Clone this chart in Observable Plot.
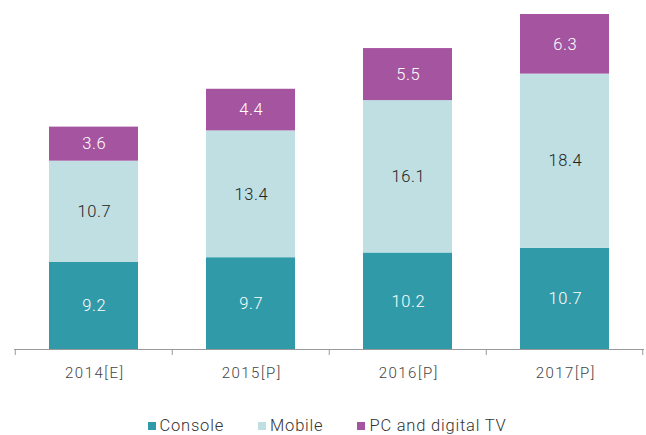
<!DOCTYPE html>
<html>
<head>
<meta charset="utf-8">
<script src="https://cdn.jsdelivr.net/npm/d3@7"></script>
<script src="https://cdn.jsdelivr.net/npm/@observablehq/plot@0.6"></script>
<style>
  body { margin: 0; background: #fff; font-family: Roboto, "Open Sans", sans-serif; }
  #chart svg { display: block; }
  #chart svg g[aria-label="x-axis tick label"] text { letter-spacing: 1.5px; }
  #chart svg g[aria-label="text"] text { letter-spacing: 0.6px; }
  .legend { display: flex; justify-content: center; gap: 34px; margin-top: 26px; margin-left: 8px; font-size: 16.5px; font-weight: 300; color: #333; line-height: 20px; letter-spacing: 0.8px; }
  .legend span.sw { display: inline-block; width: 8px; height: 8px; margin-right: 4px; vertical-align: 1px; }
</style>
</head>
<body>
<div id="chart"></div>
<script>
const years = ["2014[E]", "2015[P]", "2016[P]", "2017[P]"];
const seriesNames = ["Console", "Mobile", "PC and digital TV"];
const consoleValues = [9.2, 9.7, 10.2, 10.7];
const mobileValues = [10.7, 13.4, 16.1, 18.4];
const pcValues = [3.6, 4.4, 5.5, 6.3];
const colors = ["#319aa9", "#bfdfe3", "#a5559f"];
const textColors = ["#ffffff", "#222222", "#ffffff"];

const valuesBySeries = [consoleValues, mobileValues, pcValues];
const data = [];
seriesNames.forEach((s, si) => {
  years.forEach((y, yi) => data.push({year: y, series: s, value: valuesBySeries[si][yi]}));
});
const totals = years.map((y, i) => consoleValues[i] + mobileValues[i] + pcValues[i]);

const W = 646, ML = 14, MR = 2;
const step = (W - ML - MR) / years.length;

const chart = Plot.plot({
  width: W,
  height: 390,
  marginTop: 14,
  marginBottom: 41,
  marginLeft: ML,
  marginRight: MR,
  style: {fontFamily: "Roboto, sans-serif", fontWeight: 300},
  x: {domain: years, paddingInner: 0.43, paddingOuter: 0.215, label: null},
  y: {domain: [0, d3.max(totals)], axis: null},
  color: {domain: seriesNames, range: colors},
  marks: [
    Plot.barY(data, {x: "year", y: "value", fill: "series", z: "series", order: seriesNames}),
    Plot.text(data, Plot.stackY({x: "year", y: "value", z: "series", order: seriesNames, text: d => d.value.toFixed(1),
      fill: d => textColors[seriesNames.indexOf(d.series)], fontSize: 16.5, dx: 0.3})),
    Plot.ruleY([0], {stroke: "#999", strokeWidth: 1.2}),
    Plot.ruleX(years, {x: d => d, y1: 0, y2: 0, insetBottom: -6, dx: -step / 2, stroke: "#999"}),
    Plot.ruleX(years.slice(-1), {x: d => d, y1: 0, y2: 0, insetBottom: -6, dx: step / 2 - 1, stroke: "#999"}),
    Plot.axisX({tickSize: 0, tickPadding: 18, fontSize: 15, fill: "#444", label: null, dx: 0.75})
  ]
});
document.getElementById("chart").append(chart);

const legend = document.createElement("div");
legend.className = "legend";
seriesNames.forEach((s, i) => {
  const item = document.createElement("div");
  item.innerHTML = `<span class="sw" style="background:${colors[i]}"></span>${s}`;
  legend.append(item);
});
document.getElementById("chart").append(legend);
</script>
</body>
</html>
